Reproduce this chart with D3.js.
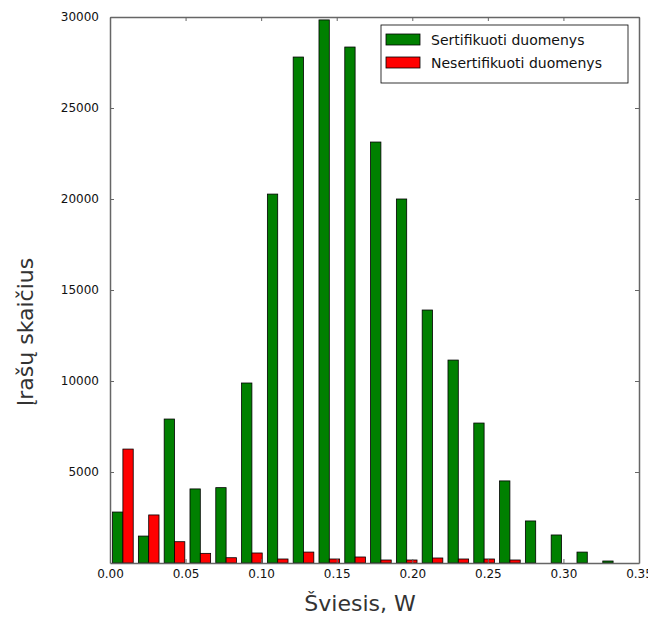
<!DOCTYPE html>
<html>
<head>
<meta charset="utf-8">
<script src="https://cdn.jsdelivr.net/npm/d3@7/dist/d3.min.js"></script>
<style>
  body { margin: 0; background: #fff; }
  svg text { font-family: "DejaVu Sans", sans-serif; }
</style>
</head>
<body>
<script>
let width = 648;
let height = 617;

// histogram data
let binWidth = 0.01707;
let certified = [2800, 1480, 7910, 4070, 4140, 9890, 20270, 27800, 29840, 28350,
                 23130, 20000, 13900, 11150, 7690, 4510, 2310, 1540, 600, 110];
let uncertified = [6260, 2640, 1170, 530, 290, 550, 220, 600, 220, 330,
                   165, 165, 275, 220, 220, 165, 0, 0, 0, 0];
let xTicks = [0, 0.05, 0.10, 0.15, 0.20, 0.25, 0.30, 0.35];
let yTicks = [5000, 10000, 15000, 20000, 25000, 30000];
let seriesNames = ["Sertifikuoti duomenys", "Nesertifikuoti duomenys"];
let seriesColors = ["#008000", "#ff0000"];

let margin = {left: 110, right: 9, top: 17, bottom: 54};

let svg = d3.select("body").append("svg")
    .attr("width", width)
    .attr("height", height);

let x = d3.scaleLinear()
    .domain([0, 0.35])
    .range([margin.left, width - margin.right]);
let y = d3.scaleLinear()
    .domain([0, 30000])
    .range([height - margin.bottom, margin.top]);

let barW = x(0.4 * binWidth) - x(0);

// bars
[certified, uncertified].forEach(function (series, s) {
    svg.append("g").selectAll("rect")
        .data(series)
        .enter()
        .append("rect")
        .attr("x", (d, i) => x(i * binWidth + 0.1 * binWidth) + s * barW)
        .attr("y", d => y(d))
        .attr("width", barW)
        .attr("height", d => y(0) - y(d))
        .attr("fill", seriesColors[s])
        .attr("stroke", "#000")
        .attr("stroke-width", 0.8)
        .attr("display", d => d > 0 ? null : "none");
});

// frame with inward ticks on every side
let frameColor = "#666";
let xBottom = d3.axisBottom(x).tickValues(xTicks).tickFormat(d3.format(".2f"))
    .tickSizeInner(-4).tickSizeOuter(0).tickPadding(6);
let xTop = d3.axisTop(x).tickValues(xTicks).tickFormat("")
    .tickSizeInner(-4).tickSizeOuter(0);
let yLeft = d3.axisLeft(y).tickValues(yTicks).tickFormat(d3.format("d"))
    .tickSizeInner(-4).tickSizeOuter(0).tickPadding(11);
let yRight = d3.axisRight(y).tickValues(yTicks).tickFormat("")
    .tickSizeInner(-4).tickSizeOuter(0);

function styleAxis(g) {
    g.select(".domain").attr("stroke", frameColor).attr("stroke-width", 1.5);
    g.selectAll(".tick line").attr("stroke", frameColor);
    g.selectAll(".tick text")
        .attr("fill", "#111")
        .attr("font-size", 12)
        .attr("font-family", "DejaVu Sans");
}

svg.append("g").attr("transform", `translate(0,${y(0)})`).call(xBottom).call(styleAxis);
svg.append("g").attr("transform", `translate(0,${y(30000)})`).call(xTop).call(styleAxis);
svg.append("g").attr("transform", `translate(${x(0)},0)`).call(yLeft).call(styleAxis);
svg.append("g").attr("transform", `translate(${x(0.35)},0)`).call(yRight).call(styleAxis);

// axis titles
svg.append("text")
    .attr("x", 360)
    .attr("y", 611)
    .attr("text-anchor", "middle")
    .attr("font-family", "Liberation Sans, Arial, sans-serif")
    .attr("font-size", 22)
    .attr("fill", "#333")
    .text("Šviesis, W");

svg.append("text")
    .attr("transform", "translate(33,332) rotate(-90)")
    .attr("text-anchor", "middle")
    .attr("font-family", "Liberation Sans, Arial, sans-serif")
    .attr("font-size", 22)
    .attr("fill", "#333")
    .text("Įrašų skaičius");

// legend
let legend = svg.append("g").attr("transform", "translate(381,25)");
legend.append("rect")
    .attr("width", 247).attr("height", 58)
    .attr("fill", "#fff").attr("stroke", "#000").attr("stroke-width", 0.8);
seriesNames.forEach(function (name, i) {
    legend.append("rect")
        .attr("x", 5).attr("y", 9 + i * 23)
        .attr("width", 34).attr("height", 11)
        .attr("fill", seriesColors[i]).attr("stroke", "#000").attr("stroke-width", 0.8);
    legend.append("text")
        .attr("x", 50).attr("y", 20 + i * 23)
        .attr("font-size", 14)
        .attr("fill", "#111")
        .text(name);
});
</script>
</body>
</html>
